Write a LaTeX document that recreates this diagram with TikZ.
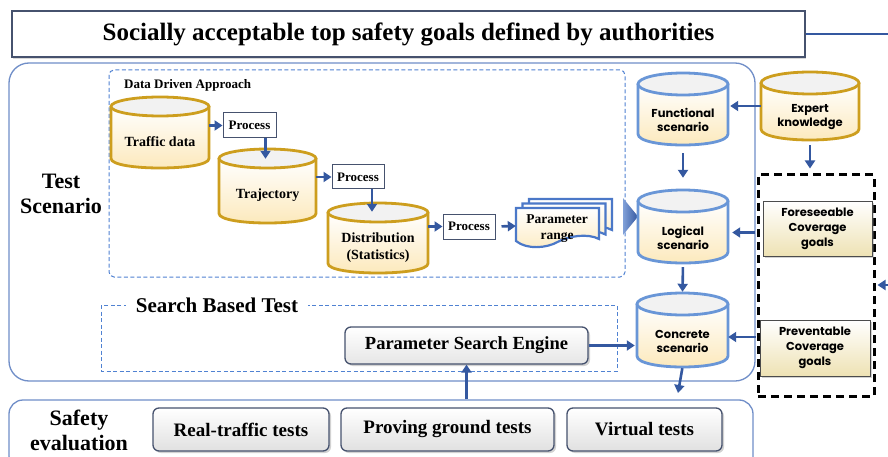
\documentclass[tikz,border=0pt]{standalone}
\usepackage{fontspec}
\setmainfont{Liberation Serif}
\newfontfamily\gothic{Poppins}
\usetikzlibrary{arrows.meta,shadows,calc}
\definecolor{arrblue}{RGB}{52,88,160}
\definecolor{boxblue}{RGB}{112,142,200}
\definecolor{dashblue}{RGB}{80,130,210}
\definecolor{gold}{RGB}{205,158,30}
\definecolor{cylblue}{RGB}{105,150,215}
\definecolor{docblue}{RGB}{75,120,200}
\definecolor{cream}{RGB}{252,232,185}
\definecolor{captop}{RGB}{242,242,242}
\definecolor{slate}{RGB}{70,82,110}
\definecolor{goalcream}{RGB}{238,226,180}

\newcommand\cyl[9]{%
  \pgfmathsetmacro\ca{#2}\pgfmathsetmacro\cb{#3}\pgfmathsetmacro\cc{#4}\pgfmathsetmacro\cd{#5}%
  \pgfmathsetmacro\cry{#6}%
  \pgfmathsetmacro\cmx{(\ca+\cc)/2}\pgfmathsetmacro\crx{(\cc-\ca)/2}%
  \pgfmathsetmacro\ctop{\cb+\cry}\pgfmathsetmacro\cbot{\cd-\cry}%
  \pgfmathsetmacro\cbc{\cd+\cry/3}%
  \pgfmathsetmacro\cmy{(\cb+\cd)/2}\pgfmathsetmacro\cty{(\cb+2*\cry+\cd)/2}%
  \pgfmathsetmacro\cw{\cc-\ca}\pgfmathsetmacro\ch{\cd-\cb}%
  \path[top color=white,bottom color=cream] (\ca,\ctop) -- (\ca,\cbot) .. controls (\ca,\cbc) and (\cc,\cbc) .. (\cc,\cbot) -- (\cc,\ctop) -- cycle;
  \draw[#7,line width=2.8pt] (\ca,\ctop) -- (\ca,\cbot) .. controls (\ca,\cbc) and (\cc,\cbc) .. (\cc,\cbot) -- (\cc,\ctop);
  \draw[#7,line width=2.8pt,fill=captop] (\cmx,\ctop) ellipse [x radius=\crx pt, y radius=\cry pt];
  \node[inner sep=0,minimum width=\cw pt,minimum height=\ch pt] (#1) at (\cmx,\cmy) {};
  \node[align=center,font=#9,inner sep=0] at (\cmx,\cty) {#8};
}

\tikzset{
  arr/.style={draw=arrblue,line width=2.6pt,-{Triangle[length=8pt,width=10pt]}},
  procbox/.style={draw=slate,line width=1pt,fill=white,font=\fontsize{13}{14}\selectfont\bfseries,minimum width=53pt,minimum height=25pt,inner sep=0},
  btn/.style={draw=slate,line width=1.3pt,rounded corners=6pt,top color=white,bottom color=black!12,minimum height=43pt,inner sep=0,
    drop shadow={shadow xshift=2pt,shadow yshift=-2pt,opacity=0.35},font=\fontsize{19}{21}\selectfont\bfseries},
  goalbox/.style={draw=black!70,line width=1pt,top color=white,bottom color=goalcream,inner sep=0,align=center,
    drop shadow={shadow xshift=2pt,shadow yshift=-2pt,opacity=0.35},font=\gothic\bfseries\fontsize{11.5}{15}\selectfont}
}

\begin{document}
\begin{tikzpicture}[x=1pt,y=-1pt]
\useasboundingbox (0,0) rectangle (888,457);
\fill[white] (0,0) rectangle (888,457);

% title
\node[draw=slate,line width=1.2pt,fill=white,minimum width=793pt,minimum height=46pt,inner sep=0,
  drop shadow={shadow xshift=1pt,shadow yshift=-2pt,opacity=0.3},font=\fontsize{25}{28}\selectfont\bfseries] (title) at (408.5,34) {Socially acceptable top safety goals defined by authorities};
\coordinate (redge) at (888,34);
\draw[arrblue,line width=2.4pt] (title.east) -- (redge);

% containers
\draw[boxblue,line width=1.3pt,rounded corners=20pt] (9,63) rectangle (755,381);
\node[draw=boxblue,line width=1.3pt,rounded corners=14pt,minimum width=744pt,minimum height=70pt,inner sep=0] (safety) at (381,435) {};
\draw[dashblue,line width=1pt,dash pattern=on 4pt off 2.5pt,rounded corners=5pt] (109,70) rectangle (625,277);
\draw[dashblue,line width=1pt,dash pattern=on 4pt off 2.5pt] (101,305) rectangle (617,371);
\node[fill=white,inner xsep=10pt,inner ysep=1pt,font=\fontsize{21}{23}\selectfont\bfseries] (sbt) at (217,305) {Search Based Test};
\node[anchor=west,inner sep=0,font=\fontsize{13}{14}\selectfont\bfseries] (dda) at (124,85) {Data Driven Approach};

\node[align=center,inner sep=0,font=\fontsize{22}{25}\selectfont\bfseries] (ts) at (61,194) {Test\\Scenario};
\node[align=center,inner sep=0,font=\fontsize{22}{25}\selectfont\bfseries] (se) at (79,430) {Safety\\evaluation};

% data driven chain
\cyl{traffic}{111}{97}{209}{168}{9.5}{gold}{Traffic data}{\fontsize{14}{16}\selectfont\bfseries}
\cyl{traj}{219}{149}{316}{223}{9.5}{gold}{Trajectory}{\fontsize{14}{16}\selectfont\bfseries}
\cyl{dist}{328}{203}{428}{273}{9.5}{gold}{Distribution\\(Statistics)}{\fontsize{14}{17}\selectfont\bfseries}
\node[procbox] (p1) at (249.5,125.5) {Process};
\node[procbox,minimum width=52pt,minimum height=24pt] (p2) at (358,177) {Process};
\node[procbox,minimum width=52pt] (p3) at (469,226.5) {Process};

\draw[arr] (traffic.east |- p1.west) -- (p1.west);
\draw[arr] ([xshift=16pt]p1.south) -- ($([xshift=16pt]p1.south |- traj.north)+(0,10)$);
\draw[arr] (traj.east |- p2.west) -- (p2.west);
\draw[arr] ([xshift=14pt]p2.south) -- ($([xshift=14pt]p2.south |- dist.north)+(0,9)$);
\draw[arr] (dist.east |- p3.west) -- (p3.west);

% parameter range documents
\foreach \dx/\dy in {13/-9,6.5/-4.5,0/0}{
  \draw[docblue,line width=2.2pt,top color=white,bottom color=cream!85]
    (516+\dx,208+\dy) -- (599+\dx,208+\dy) -- (599+\dx,239+\dy)
    .. controls (588+\dx,233+\dy) and (568+\dx,236+\dy) .. (557.5+\dx,242+\dy)
    .. controls (547+\dx,248+\dy) and (527+\dx,250+\dy) .. (516+\dx,241+\dy) -- cycle;
}
\node[inner sep=0,minimum width=83pt,minimum height=36pt] (param) at (557.5,226) {};
\node[align=center,inner sep=0,font=\fontsize{13.5}{16}\selectfont\bfseries] at (557,229) {Parameter\\range};
\draw[arr,shorten <=6pt] (p3.east) -- (param.west);
\path[left color=docblue!70,right color=arrblue] (623,198) -- (638,216.5) -- (623,235) -- cycle;

% right column
\cyl{func}{638}{73}{728}{145}{11}{cylblue}{Functional\\scenario}{\gothic\bfseries\fontsize{11.5}{14}\selectfont}
\cyl{logic}{638}{190}{728}{263}{11}{cylblue}{Logical\\scenario}{\gothic\bfseries\fontsize{11.5}{14}\selectfont}
\cyl{conc}{637}{293}{728}{367}{11}{cylblue}{Concrete\\scenario}{\gothic\bfseries\fontsize{11.5}{14}\selectfont}
\cyl{expert}{761}{72}{859}{140}{11}{gold}{Expert\\knowledge}{\gothic\bfseries\fontsize{11.5}{14}\selectfont}

\node[draw=black,line width=3pt,dash pattern=on 8pt off 5pt,minimum width=116pt,minimum height=221pt,inner sep=0] (dbox) at (816,285.5) {};
\node[goalbox,minimum width=109pt,minimum height=55pt] (fore) at (817.5,228.5) {Foreseeable\\Coverage\\goals};
\node[goalbox,minimum width=110pt,minimum height=56pt] (prev) at (815,348) {Preventable\\Coverage\\goals};

\node[draw=slate,line width=1.3pt,rounded corners=6pt,top color=white,bottom color=black!10,minimum width=243pt,minimum height=37pt,inner sep=0,
  drop shadow={shadow xshift=2pt,shadow yshift=-2pt,opacity=0.35},font=\fontsize{18.5}{20}\selectfont\bfseries] (pse) at (466.5,345.5) {Parameter Search Engine};

\node[btn,minimum width=176pt] (real) at (241,429.5) {Real-traffic tests};
\node[btn,minimum width=213pt] (prov) at (447.5,429.5) {Proving ground tests};
\node[btn,minimum width=155pt] (virt) at (644.5,429.5) {Virtual tests};

\draw[arr,shorten >=2pt] (expert.west) -- (expert.west -| func.east);
\draw[arr,shorten <=8pt,shorten >=12pt] (func.south) -- (logic.north);
\draw[arr,shorten <=4pt,shorten >=1pt] (logic.south) -- (conc.north);
\coordinate (cdown) at (678,393);
\draw[arr,shorten <=1pt] (conc.south) -- (cdown);
\draw[arr,shorten <=5pt,shorten >=5pt] (expert.south) -- (expert.south |- dbox.north);
\draw[arr,shorten <=2pt,shorten >=4pt] ($(dbox.west |- logic.east)+(0,6)$) -- ($(logic.east)+(0,6)$);
\draw[arr,shorten <=4pt] ($(prev.west)+(0,-11)$) -- ($(conc.east)+(0,7)$);
\draw[arr,shorten >=2pt] (pse.east) -- (pse.east -| conc.west);
\draw[arr] (pse.south |- safety.north) -- (pse.south);
\coordinate (rin) at (888,285);
\draw[arr,shorten >=2pt] (rin) -- (rin -| dbox.east);
\end{tikzpicture}
\end{document}
